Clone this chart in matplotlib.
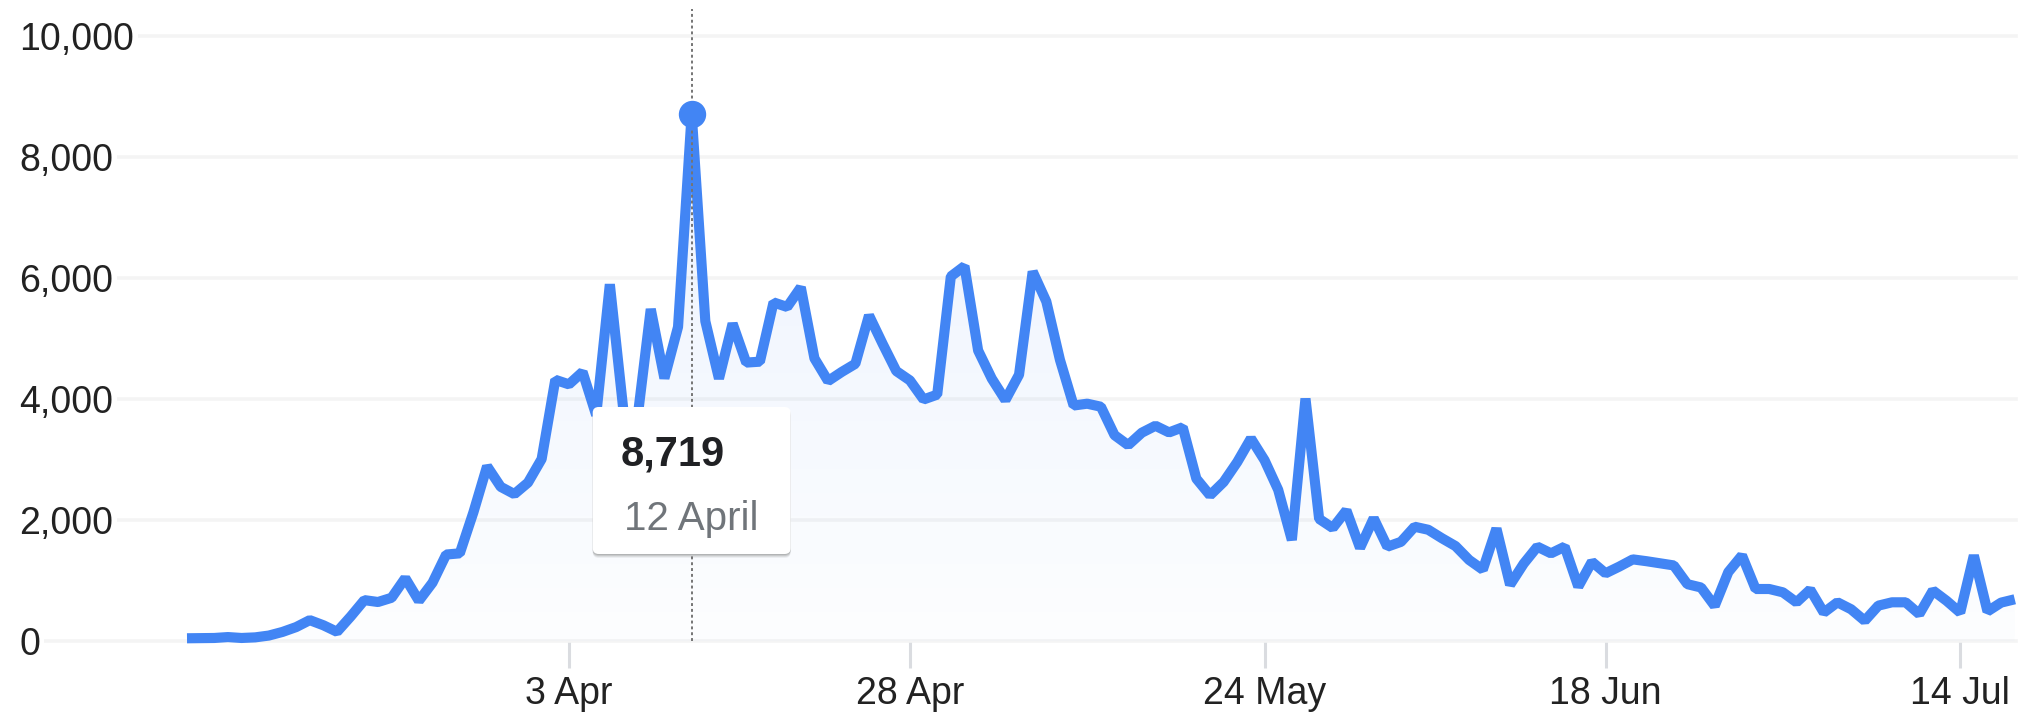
import numpy as np
import pandas as pd
import matplotlib
matplotlib.use("Agg")
import matplotlib.pyplot as plt
import matplotlib.dates as mdates
from matplotlib.colors import to_rgb
from matplotlib.patches import FancyBboxPatch
from matplotlib.transforms import IdentityTransform

# ------------------------
# Data (daily new cases)
# ------------------------
start_date = "2020-03-06"
cases = [
    45, 48, 50, 65, 50, 60, 90, 150, 230, 345,
    260, 152, 405, 676, 645, 715, 1040, 665, 965, 1430,
    1450, 2130, 2890, 2550, 2430, 2620, 3010, 4320, 4245, 4450,
    3735, 5900, 3800, 3635, 5490, 4345, 5195, 8719, 5290, 4340,
    5250, 4605, 4620, 5600, 5525, 5850, 4675, 4300, 4450, 4585,
    5385, 4915, 4465, 4310, 3995, 4075, 6030, 6200, 4805, 4340,
    3985, 4405, 6110, 5615, 4650, 3895, 3925, 3875, 3405, 3240,
    3445, 3560, 3450, 3535, 2685, 2410, 2630, 2960, 3350, 2990,
    2500, 1670, 4010, 2020, 1870, 2160, 1540, 2030, 1560, 1640,
    1890, 1840, 1700, 1570, 1340, 1180, 1860, 930, 1280, 1560,
    1450, 1560, 900, 1310, 1120, 1230, 1350, 1320, 1285, 1250,
    940, 885, 580, 1140, 1415, 860, 860, 805, 640, 850,
    470, 640, 525, 335, 585, 640, 640, 445, 835, 665,
    470, 1415, 490, 635, 690,
]
dates = pd.date_range(start_date, periods=len(cases), freq="D")

tick_dates = pd.to_datetime(["2020-04-03", "2020-04-28", "2020-05-24",
                             "2020-06-18", "2020-07-14"])
tick_labels = ["3 Apr", "28 Apr", "24 May", "18 Jun", "14 Jul"]
y_ticks = [0, 2000, 4000, 6000, 8000, 10000]

# ------------------------
# Figure / axes geometry (pixels)
# ------------------------
plt.rcParams["font.family"] = ["Liberation Sans", "DejaVu Sans"]
W, H = 2018, 713
BLUE = "#4285f4"
px_per_unit = 0.06046      # vertical pixels per case
px_per_day = 13.64
first_px, ax_left, ax_right, ax_bottom = 187, 17, 2016, 641

fig = plt.figure(figsize=(W / 100, H / 100), dpi=100)
fig.patch.set_facecolor("white")
ax = fig.add_axes([ax_left / W, (H - ax_bottom) / H,
                   (ax_right - ax_left) / W, ax_bottom / H])

d0 = mdates.date2num(dates[0])
x0 = d0 - (first_px - ax_left) / px_per_day
x1 = d0 + (ax_right - first_px) / px_per_day
ymax = ax_bottom / px_per_unit

# ------------------------
# Line + gradient fill
# ------------------------
ax.plot(dates, cases, color=BLUE, lw=7.3, solid_joinstyle="bevel",
        solid_capstyle="butt", zorder=3, clip_on=False)

poly = ax.fill_between(dates, cases, 0, color="none", lw=0)
n = 256
grad = np.zeros((n, 1, 4))
grad[..., :3] = to_rgb(BLUE)
grad[..., 3] = np.linspace(0.015, 0.12, n)[:, None]
im = ax.imshow(grad, origin="lower", aspect="auto", extent=[x0, x1, 0, ymax],
               interpolation="bilinear", zorder=1)
im.set_clip_path(poly.get_paths()[0], ax.transData)
poly.set_visible(False)

# ------------------------
# Axes styling
# ------------------------
ax.set_xlim(x0, x1)
ax.set_ylim(0, ymax)
for s in ax.spines.values():
    s.set_visible(False)

ax.set_yticks(y_ticks)
ax.set_yticklabels([f"{v:,}" for v in y_ticks], ha="left")
ax.tick_params(axis="y", length=0, pad=-1.5, labelsize=27, labelcolor="#222222")
ax.yaxis.grid(True, color="#f4f4f4", lw=2.6)
ax.set_axisbelow(True)
for gl in ax.get_ygridlines():
    gl.set_clip_on(False)
for t in ax.get_yticklabels():
    t.set_bbox(dict(facecolor="white", edgecolor="none", pad=3.0))

ax.set_xticks(tick_dates)
ax.set_xticklabels(tick_labels)
ax.tick_params(axis="x", direction="out", length=19.4, width=2.2,
               color="#dadce0", pad=5.8, labelsize=27, labelcolor="#222222")

# ------------------------
# Hover state at the peak: dotted rule, marker, tooltip
# ------------------------
i = int(np.argmax(cases))
ax.axvline(dates[i], ymin=0, ymax=(ax_bottom - 9) / ax_bottom, color="#757575",
           lw=1.4, ls=(0, (1.5, 1.5)), zorder=4)
ax.plot(dates[i], cases[i], "o", ms=18.7, color=BLUE, zorder=5, clip_on=False)

px = ax.transData.transform((mdates.date2num(dates[i]), cases[i]))[0]
bw, bh, r = 198, 147, 6
bx, by = px - bw / 2, H - 554
for k, a in [(4, 0.05), (3, 0.07), (2, 0.09), (1, 0.10)]:
    fig.add_artist(FancyBboxPatch((bx + r, by + r - k), bw - 2 * r, bh - 2 * r,
                                  boxstyle=f"round,pad={r},rounding_size={r}",
                                  transform=IdentityTransform(), facecolor="black",
                                  edgecolor="none", alpha=a, zorder=6))
fig.add_artist(FancyBboxPatch((bx + r, by + r), bw - 2 * r, bh - 2 * r,
                              boxstyle=f"round,pad={r},rounding_size={r}",
                              transform=IdentityTransform(), facecolor="white",
                              edgecolor="none", zorder=7))
fig.text(px - 71, H - 466, f"{cases[i]:,}", transform=IdentityTransform(),
         fontsize=30, fontweight="bold", color="#202124", va="baseline",
         ha="left", zorder=8)
fig.text(px - 68, H - 530, f"{dates[i].day} {dates[i]:%B}",
         transform=IdentityTransform(), fontsize=29, color="#70757a",
         va="baseline", ha="left", zorder=8)

fig.savefig("out.png", dpi=100)
